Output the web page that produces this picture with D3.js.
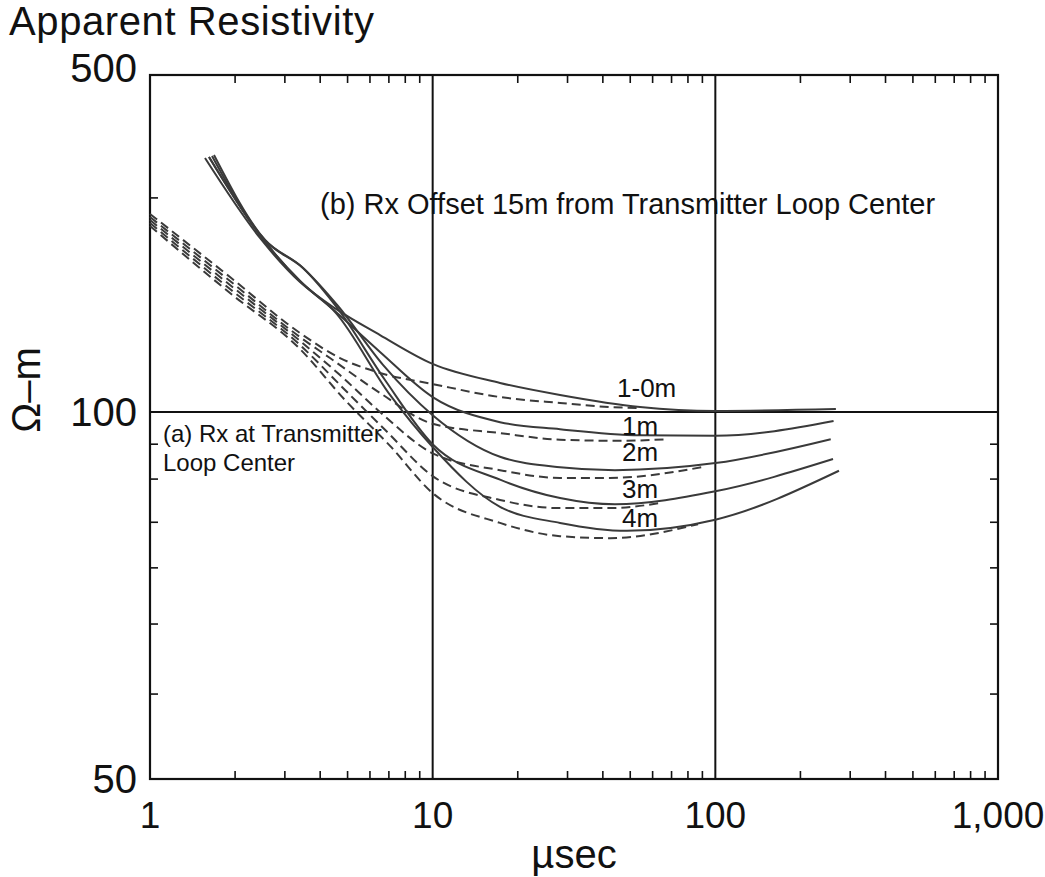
<!DOCTYPE html>
<html>
<head>
<meta charset="utf-8">
<script src="https://cdn.jsdelivr.net/npm/d3@7"></script>
<style>
  body { margin: 0; background: #fff; }
  svg text { font-family: "Liberation Sans", Arial, sans-serif; fill: #111; }
</style>
</head>
<body>
<div id="chart"></div>
<script>
// ---- data (µsec, ohm-m) ----
var xTickValues = [1, 10, 100, 1000];
var xTickLabels = ["1", "10", "100", "1,000"];
var yTickValues = [50, 100, 500];
var yTickLabels = ["50", "100", "500"];
var yMinorLow = [94.1, 88.1, 81.2, 74.5, 67.0, 58.7];   // both sides
var yMinorHigh = [278];                                  // left side only
var gridX = [10, 100];
var gridY = [100];

// solid: (b) Rx offset 15m
var solid_1_0m = [[1.565, 336.3], [2.449, 229.6], [3.394, 186.0], [4.55, 163.6], [6.512, 144.4], [10, 125.8],
                  [17.31, 114.9], [28.22, 108.5], [54.14, 102.4], [100, 100.5], [267, 101.4]];
var solid_1m   = [[1.617, 338.0], [2.49, 229.6], [3.394, 186.9], [4.55, 161.2], [6.512, 133.2], [10, 107.4],
                  [17.31, 98.1], [28.22, 96.8], [54.14, 95.7], [100, 95.6], [262, 98.3]];
var solid_2m   = [[1.684, 341.3], [2.551, 227.4], [3.478, 198.9], [4.625, 165.9], [6.672, 125.2], [10, 99.4],
                  [17.31, 91.9], [28.22, 90.1], [44.16, 89.6], [100, 90.8], [256, 95.0]];
var solid_3m   = [[1.657, 339.6], [2.551, 227.4], [3.478, 198.9], [4.625, 163.6], [6.782, 116.5], [10, 94.1],
                  [17.31, 88.0], [28.22, 85.0], [44.16, 84.0], [100, 86.1], [260.8, 91.5]];
var solid_4m   = [[1.617, 338.0], [2.49, 229.6], [3.394, 186.9], [4.55, 160.4], [7.066, 108.5], [10, 93.6],
                  [17.31, 83.6], [28.22, 81.1], [48.7, 79.9], [100, 81.6], [273.8, 89.5]];

// dashed: (a) Rx at loop center
var dashed_1_0m = [[1, 257.5], [1.919, 190.5], [3.394, 145.8], [4.701, 129.4], [6.512, 120.5], [10, 114.3],
                   [17.31, 107.4], [28.22, 104.4], [42.41, 102.4], [54.14, 101.9]];
var dashed_1m   = [[1, 253.8], [1.919, 186.9], [3.394, 143.0], [4.333, 129.4], [6.512, 109.5], [10, 97.8],
                   [17.31, 96.1], [28.22, 94.9], [46.0, 94.7], [68.01, 95.0]];
var dashed_2m   = [[1, 250.2], [1.919, 183.4], [3.394, 140.4], [4.701, 119.3], [6.512, 100.0], [10, 92.5],
                   [17.31, 89.6], [28.22, 88.3], [42.41, 88.3], [89.7, 90.1]];
var dashed_3m   = [[1, 246.6], [1.919, 179.9], [3.394, 137.7], [4.896, 111.1], [6.782, 96.7], [10, 88.6],
                   [17.31, 84.7], [28.22, 83.4], [42.41, 83.4], [63.72, 84.2]];
var dashed_4m   = [[1, 243.1], [1.919, 176.5], [3.394, 135.1], [4.896, 105.9], [7.066, 93.8], [10, 85.8],
                   [17.31, 81.1], [28.22, 79.1], [42.41, 78.8], [86.83, 80.9]];

var curveLabels = ["1-0m", "1m", "2m", "3m", "4m"];
var curveLabelPos = [[44.9, 107.4], [46.8, 95.7], [46.8, 91.2], [46.8, 85.0], [46.8, 80.5]];

// ---- drawing ----
var W = 1045, H = 877;
var svg = d3.select("#chart").append("svg").attr("width", W).attr("height", H);

var x = d3.scaleLog().domain([1, 1000]).range([150, 998]);
var y = d3.scaleLog().domain([50, 100, 500]).range([779, 412, 75]);

var plotL = x(1), plotR = x(1000), plotT = y(500), plotB = y(50);
var tickLen = 8;

// gridlines
gridX.forEach(function (v) {
    svg.append("line").attr("x1", x(v)).attr("x2", x(v)).attr("y1", plotT).attr("y2", plotB)
       .attr("stroke", "#111").attr("stroke-width", 2);
});
gridY.forEach(function (v) {
    svg.append("line").attr("x1", plotL).attr("x2", plotR).attr("y1", y(v)).attr("y2", y(v))
       .attr("stroke", "#111").attr("stroke-width", 2);
});

// x minor ticks, top and bottom, pointing inward
var xMinor = x.ticks().filter(function (t) { return xTickValues.indexOf(t) < 0; });
xMinor.forEach(function (t) {
    svg.append("line").attr("x1", x(t)).attr("x2", x(t)).attr("y1", plotB).attr("y2", plotB - tickLen)
       .attr("stroke", "#111").attr("stroke-width", 1.6);
    svg.append("line").attr("x1", x(t)).attr("x2", x(t)).attr("y1", plotT).attr("y2", plotT + tickLen)
       .attr("stroke", "#111").attr("stroke-width", 1.6);
});

// y minor ticks
yMinorLow.forEach(function (t) {
    svg.append("line").attr("x1", plotL).attr("x2", plotL + tickLen).attr("y1", y(t)).attr("y2", y(t))
       .attr("stroke", "#111").attr("stroke-width", 1.6);
    svg.append("line").attr("x1", plotR).attr("x2", plotR - tickLen).attr("y1", y(t)).attr("y2", y(t))
       .attr("stroke", "#111").attr("stroke-width", 1.6);
});
yMinorHigh.forEach(function (t) {
    svg.append("line").attr("x1", plotL).attr("x2", plotL + tickLen).attr("y1", y(t)).attr("y2", y(t))
       .attr("stroke", "#111").attr("stroke-width", 1.6);
});

// frame
svg.append("rect").attr("x", plotL).attr("y", plotT).attr("width", plotR - plotL).attr("height", plotB - plotT)
   .attr("fill", "none").attr("stroke", "#111").attr("stroke-width", 2.2);

// tick labels
xTickValues.forEach(function (v, i) {
    svg.append("text").attr("x", x(v)).attr("y", 828).attr("text-anchor", "middle")
       .attr("font-size", 37).text(xTickLabels[i]);
});
yTickValues.forEach(function (v, i) {
    svg.append("text").attr("x", 137).attr("y", y(v) + (v === 500 ? 7 : 14)).attr("text-anchor", "end")
       .attr("font-size", 40).text(yTickLabels[i]);
});

// curves
var line = d3.line()
    .x(function (d) { return x(d[0]); })
    .y(function (d) { return y(d[1]); })
    .curve(d3.curveMonotoneX);

[dashed_1_0m, dashed_1m, dashed_2m, dashed_3m, dashed_4m].forEach(function (s) {
    svg.append("path").attr("d", line(s)).attr("fill", "none")
       .attr("stroke", "#3a3a3a").attr("stroke-width", 2).attr("stroke-dasharray", "9,5");
});
[solid_1_0m, solid_1m, solid_2m, solid_3m, solid_4m].forEach(function (s) {
    svg.append("path").attr("d", line(s)).attr("fill", "none")
       .attr("stroke", "#3a3a3a").attr("stroke-width", 2);
});

// curve labels
curveLabels.forEach(function (t, i) {
    svg.append("text").attr("x", x(curveLabelPos[i][0])).attr("y", y(curveLabelPos[i][1]))
       .attr("font-size", 26).text(t);
});

// annotations
svg.append("text").attr("x", 320).attr("y", 214).attr("font-size", 29)
   .text("(b) Rx Offset 15m from Transmitter Loop Center");
svg.append("text").attr("x", 163).attr("y", 442).attr("font-size", 24).text("(a) Rx at Transmitter");
svg.append("text").attr("x", 163).attr("y", 471).attr("font-size", 24).text("Loop Center");

// titles
svg.append("text").attr("x", 9).attr("y", 35).attr("font-size", 40).attr("letter-spacing", 0.6)
   .text("Apparent Resistivity");
svg.append("text").attr("x", (plotL + plotR) / 2).attr("y", 868).attr("text-anchor", "middle")
   .attr("font-size", 40).text("µsec");
svg.append("text").attr("transform", "translate(40,390) rotate(-90)")
   .attr("text-anchor", "middle").attr("font-size", 40).text("Ω–m");
</script>
</body>
</html>
